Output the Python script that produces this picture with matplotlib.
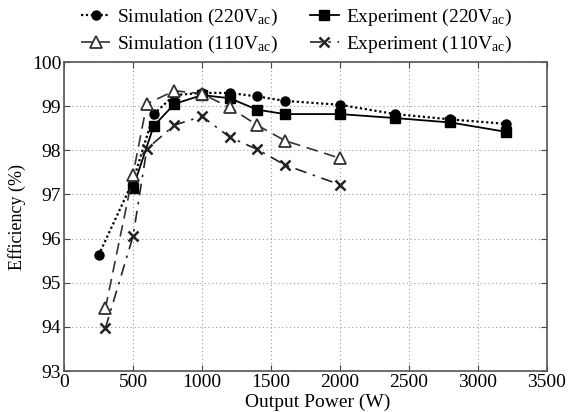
import matplotlib
matplotlib.use("Agg")
import matplotlib.pyplot as plt

plt.rcParams['font.family'] = ['Liberation Serif', 'DejaVu Serif']
plt.rcParams['mathtext.fontset'] = 'custom'
plt.rcParams['mathtext.rm'] = 'Liberation Serif'
plt.rcParams['mathtext.it'] = 'Liberation Serif:italic'

# Data
sim220_x = [250, 500, 650, 800, 1000, 1200, 1400, 1600, 2000, 2400, 2800, 3200]
sim220_y = [95.62, 97.3, 98.82, 99.25, 99.3, 99.3, 99.22, 99.12, 99.03, 98.82, 98.7, 98.6]
exp220_x = [500, 650, 800, 1000, 1200, 1400, 1600, 2000, 2400, 2800, 3200]
exp220_y = [97.15, 98.55, 99.05, 99.25, 99.18, 98.92, 98.82, 98.82, 98.73, 98.63, 98.42]
sim110_x = [300, 500, 600, 800, 1000, 1200, 1400, 1600, 2000]
sim110_y = [94.42, 97.45, 99.05, 99.35, 99.28, 98.97, 98.57, 98.22, 97.82]
exp110_x = [300, 500, 600, 800, 1000, 1200, 1400, 1600, 2000]
exp110_y = [93.97, 96.05, 98.03, 98.57, 98.77, 98.3, 98.02, 97.67, 97.22]

labels = [r'Simulation (220V$_{\mathrm{ac}}$)', r'Experiment (220V$_{\mathrm{ac}}$)',
          r'Simulation (110V$_{\mathrm{ac}}$)', r'Experiment (110V$_{\mathrm{ac}}$)']

fig = plt.figure(figsize=(5.7, 4.12), dpi=100)
ax = fig.add_axes([0.1123, 0.0995, 0.8473, 0.75])

l1, = ax.plot(sim220_x, sim220_y, color='black', linestyle=(0, (1, 1.2)), linewidth=1.6,
              marker='o', markersize=6.5, markerfacecolor='black', label=labels[0])
l2, = ax.plot(exp220_x, exp220_y, color='black', linestyle='-', linewidth=1.3,
              marker='s', markersize=6.5, markerfacecolor='black', label=labels[1])
l3, = ax.plot(sim110_x, sim110_y, color='#333333', linestyle=(0, (7, 4)), linewidth=1.2,
              marker='^', markersize=8, markerfacecolor='white', markeredgecolor='#333333',
              markeredgewidth=1.3, label=labels[2])
l4, = ax.plot(exp110_x, exp110_y, color='#222222', linestyle=(0, (7, 4, 1.5, 4)), linewidth=1.2,
              marker='x', markersize=7.5, markeredgewidth=1.8, label=labels[3])

ax.set_xlim(0, 3500)
ax.set_ylim(93, 100)
ax.set_xticks(range(0, 3501, 500))
ax.set_yticks(range(93, 101))
ax.grid(True, linestyle=(0, (1, 2.5)), color='#999999', linewidth=0.8)
ax.tick_params(direction='in', top=True, right=True, labelsize=14, length=4,
               color='#444444', pad=2)
for s in ax.spines.values():
    s.set_color('#555555')
    s.set_linewidth(1.2)

ax.set_xlabel('Output Power (W)', fontsize=14, labelpad=0)
ax.xaxis.set_label_coords(0.526, -0.075)
ax.set_ylabel('Efficiency (%)', fontsize=13, labelpad=4)

fig.legend(handles=[l1, l3, l2, l4], labels=[labels[0], labels[2], labels[1], labels[3]],
           loc='upper center', bbox_to_anchor=(0.52, 1.025), ncol=2, frameon=False,
           fontsize=14, handlelength=1.5, columnspacing=1.65, labelspacing=0.3,
           handletextpad=0.35)

fig.savefig('out.png', dpi=100)
